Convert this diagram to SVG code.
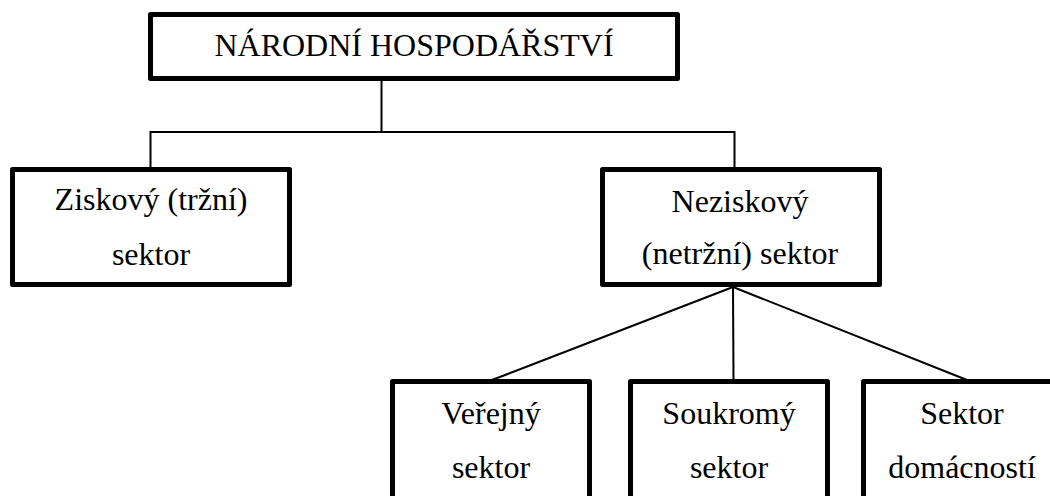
<svg xmlns="http://www.w3.org/2000/svg" width="1050" height="496" viewBox="0 0 1050 496">
<style>
.box{fill:#fff;stroke:#000;stroke-width:5;stroke-linejoin:round}
.t{font-family:"Liberation Serif","Times New Roman",serif;font-size:32px;fill:#000;text-anchor:middle}
.c{stroke:#000;stroke-width:2;fill:none}
</style>
<rect width="1050" height="496" fill="#fff"/>
<g id="connectors">
<polyline class="c" points="381.5,81 381.5,132"/>
<polyline class="c" points="150.5,167 150.5,132 734.5,132 734.5,167"/>
<line class="c" x1="733" y1="287" x2="492" y2="380"/>
<line class="c" x1="733" y1="287" x2="733.5" y2="380"/>
<line class="c" x1="733" y1="287" x2="967" y2="380"/>
</g>
<g id="n-narodni">
<rect class="box" x="150.5" y="14.5" width="527" height="64"/>
<text class="t" x="414" y="56">NÁRODNÍ HOSPODÁŘSTVÍ</text>
</g>
<g id="n-ziskovy">
<rect class="box" x="12.5" y="169.5" width="277" height="115"/>
<text class="t" x="151" y="210">Ziskový (tržní)</text>
<text class="t" x="151" y="265">sektor</text>
</g>
<g id="n-neziskovy">
<rect class="box" x="602.5" y="169.5" width="277" height="115"/>
<text class="t" x="740" y="212">Neziskový</text>
<text class="t" x="740" y="264">(netržní) sektor</text>
</g>
<g id="n-verejny">
<rect class="box" x="392.5" y="381.5" width="197" height="130"/>
<text class="t" x="491" y="424">Veřejný</text>
<text class="t" x="491" y="478">sektor</text>
</g>
<g id="n-soukromy">
<rect class="box" x="630.5" y="381.5" width="197" height="130"/>
<text class="t" x="729" y="424">Soukromý</text>
<text class="t" x="729" y="478">sektor</text>
</g>
<g id="n-domacnosti">
<rect class="box" x="863.5" y="381.5" width="202" height="130"/>
<text class="t" x="962" y="424">Sektor</text>
<text class="t" x="962" y="478">domácností</text>
</g>
</svg>
